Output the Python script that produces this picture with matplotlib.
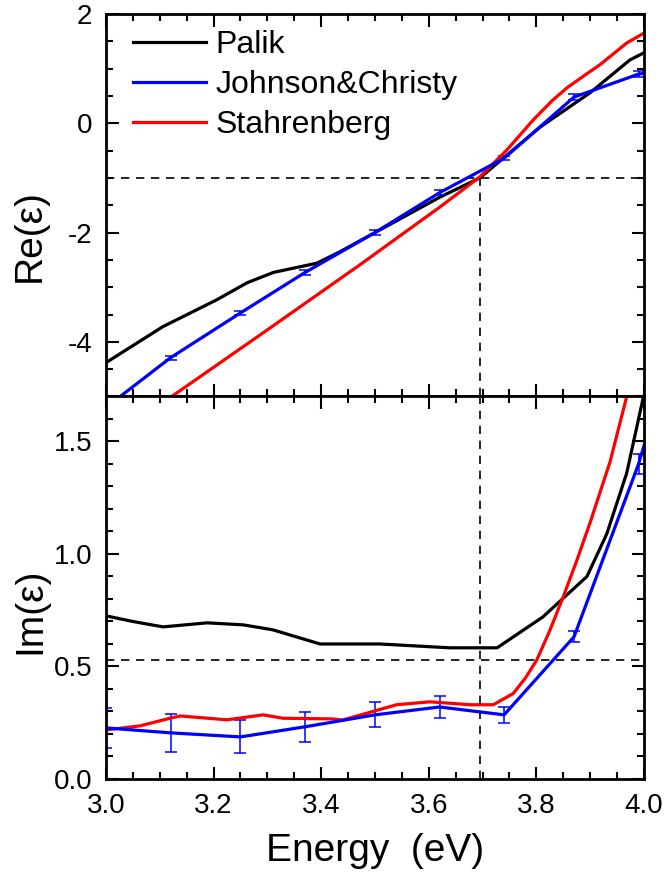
import matplotlib
matplotlib.use("Agg")
import matplotlib.pyplot as plt
import numpy as np
from matplotlib.ticker import MultipleLocator, FormatStrFormatter
from matplotlib.lines import Line2D

plt.rcParams['font.family'] = ['Liberation Sans', 'DejaVu Sans']
plt.rcParams['axes.unicode_minus'] = False

# --- data ---
# Palik
palik_re_e = [3.0, 3.106, 3.206, 3.262, 3.311, 3.392, 3.435, 3.5, 3.621, 3.695, 3.807, 3.9, 3.974, 4.0]
palik_re = [-4.38, -3.72, -3.23, -2.92, -2.73, -2.56, -2.35, -2.0, -1.35, -1.0, -0.07, 0.56, 1.16, 1.29]
palik_im_e = [3.0, 3.05, 3.106, 3.188, 3.255, 3.31, 3.398, 3.509, 3.639, 3.727, 3.812, 3.894, 3.931, 3.968, 4.0]
palik_im = [0.725, 0.70, 0.676, 0.694, 0.685, 0.663, 0.60, 0.60, 0.583, 0.583, 0.72, 0.90, 1.09, 1.36, 1.71]

# Johnson & Christy
jc_e = [3.00, 3.12, 3.25, 3.37, 3.50, 3.62, 3.74, 3.87, 3.99, 4.12]
jc_re = [-5.2, -4.29, -3.47, -2.73, -2.00, -1.27, -0.64, 0.48, 0.90, 1.10]
jc_re_err = [0.04, 0.04, 0.04, 0.04, 0.04, 0.04, 0.04, 0.05, 0.06, 0.06]
jc_im = [0.227, 0.205, 0.187, 0.232, 0.285, 0.32, 0.285, 0.632, 1.40, 2.45]
jc_im_err = [0.09, 0.085, 0.073, 0.067, 0.055, 0.048, 0.034, 0.025, 0.045, 0.05]

# Stahrenberg
st_re_e = [3.0, 3.125, 3.3, 3.472, 3.621, 3.695, 3.745, 3.794, 3.83, 3.857, 3.89, 3.918, 3.968, 4.0]
st_re = [-5.86, -4.98, -3.78, -2.59, -1.53, -0.98, -0.49, 0.06, 0.42, 0.65, 0.88, 1.07, 1.47, 1.65]
st_im_e = [3.0, 3.063, 3.119, 3.138, 3.225, 3.292, 3.329, 3.422, 3.44, 3.54, 3.602, 3.677,
           3.72, 3.757, 3.78, 3.801, 3.825, 3.85, 3.875, 3.9, 3.937, 3.968, 4.0]
st_im = [0.218, 0.236, 0.27, 0.28, 0.263, 0.285, 0.27, 0.267, 0.262, 0.33, 0.343, 0.33,
         0.33, 0.38, 0.45, 0.53, 0.66, 0.81, 0.97, 1.14, 1.41, 1.70, 1.95]

e_res = 3.695
re_res = -1.0
im_res = 0.53

BLACK, BLUE, RED = "#000000", "#0000ff", "#ff0000"
labels = ["Palik", "Johnson&Christy", "Stahrenberg"]

fig, (ax1, ax2) = plt.subplots(2, 1, figsize=(6.68, 8.81), dpi=100, sharex=True)
fig.subplots_adjust(left=0.1587, right=0.964, top=0.9841, bottom=0.1158, hspace=0)

lw = 2.3
dash = (0, (5, 4))
ax1.plot(palik_re_e, palik_re, color=BLACK, lw=lw)
ax1.errorbar(jc_e, jc_re, yerr=jc_re_err, color=BLUE, lw=lw, elinewidth=1.1,
             capsize=4, capthick=1.1)
ax1.plot(st_re_e, st_re, color=RED, lw=lw)
ax1.axhline(re_res, color="k", lw=1.2, ls=dash)
ax1.plot([e_res, e_res], [-5, re_res], color="k", lw=1.2, ls=dash)

ax2.plot(palik_im_e, palik_im, color=BLACK, lw=lw)
ax2.errorbar(jc_e, jc_im, yerr=jc_im_err, color=BLUE, lw=lw, elinewidth=1.1,
             capsize=4, capthick=1.1)
ax2.plot(st_im_e, st_im, color=RED, lw=lw)
ax2.axhline(im_res, color="k", lw=1.2, ls=dash)
ax2.axvline(e_res, color="k", lw=1.2, ls=dash)

ax1.set_xlim(3.0, 4.0)
ax1.set_ylim(-5, 2)
ax2.set_ylim(0, 1.7)

ax1.yaxis.set_major_locator(MultipleLocator(2))
ax1.yaxis.set_minor_locator(MultipleLocator(0.5))
ax2.yaxis.set_major_locator(MultipleLocator(0.5))
ax2.yaxis.set_minor_locator(MultipleLocator(0.1))
ax2.xaxis.set_major_locator(MultipleLocator(0.2))
ax2.xaxis.set_minor_locator(MultipleLocator(0.05))
ax2.yaxis.set_major_formatter(FormatStrFormatter("%.1f"))
ax2.xaxis.set_major_formatter(FormatStrFormatter("%.1f"))

for ax in (ax1, ax2):
    for s in ax.spines.values():
        s.set_linewidth(2.0)
    ax.tick_params(which="both", direction="in", top=True, right=True, width=1.5)
    ax.tick_params(which="major", length=9, labelsize=20, pad=10)
    ax.tick_params(which="minor", length=5)

ax1.set_ylabel("Re(ε)", fontsize=28)
ax2.set_ylabel("Im(ε)", fontsize=28)
ax2.set_xlabel("Energy  (eV)", fontsize=28, labelpad=10)
ax1.yaxis.set_label_coords(-0.108, 0.42)
ax2.yaxis.set_label_coords(-0.108, 0.44)

handles = [Line2D([], [], color=c, lw=lw) for c in (BLACK, BLUE, RED)]
ax1.legend(handles, labels, loc="upper left", frameon=False, fontsize=23,
           handlelength=2.3, handletextpad=0.3, labelspacing=0.32,
           bbox_to_anchor=(0.02, 1.0), borderaxespad=0.0, borderpad=0.5)

fig.savefig("out.png", dpi=100)
